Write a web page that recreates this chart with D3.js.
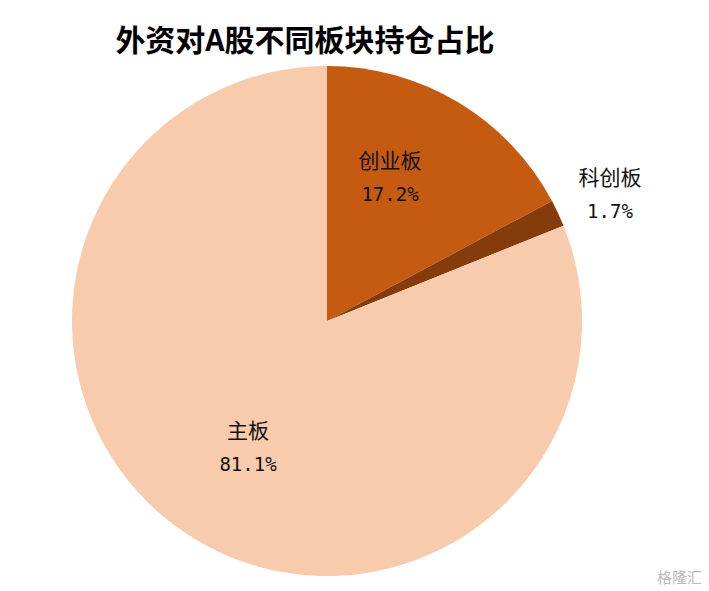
<!DOCTYPE html>
<html><head><meta charset="utf-8">
<script src="https://cdn.jsdelivr.net/npm/d3@7"></script>
<style>body{margin:0;background:#fff}</style>
</head><body>
<script>
// data
var categories = ['创业板', '科创板', '主板'];
var shares = [17.2, 1.7, 81.1];
var colors = ['#C55A11', '#843C0C', '#F8CBAD'];
// label anchor positions (pixel offsets of text, not data)
var labelPos = [[390, 160], [610, 177], [248, 430]];

var W = 709, H = 591, cx = 327, cy = 321, r = 255;
var svg = d3.select('body').append('svg').attr('width', W).attr('height', H);

svg.append('text').attr('x', 305).attr('y', 51).attr('text-anchor', 'middle')
  .style('font-family', 'Noto Sans CJK SC').style('font-weight', 'bold')
  .style('font-size', '30px').text('外资对A股不同板块持仓占比');

var pie = d3.pie().sort(null).value(function(d) { return d; });
var arc = d3.arc().innerRadius(0).outerRadius(r);
var g = svg.append('g').attr('transform', 'translate(' + cx + ',' + cy + ')');
g.selectAll('path').data(pie(shares)).enter().append('path')
  .attr('d', arc).attr('fill', function(d, i) { return colors[i]; });

categories.forEach(function(c, i) {
  var t = svg.append('text').attr('text-anchor', 'middle')
    .style('font-family', 'Noto Sans CJK SC').style('font-size', '21px').attr('fill', '#111');
  t.append('tspan').attr('x', labelPos[i][0]).attr('y', labelPos[i][1] + 8).text(c);
  t.append('tspan').attr('x', labelPos[i][0]).attr('y', labelPos[i][1] + 41)
    .style('font-family', 'DejaVu Sans Mono').style('font-size', '19px').text(shares[i].toFixed(1) + '%');
});

svg.append('text').attr('x', 702).attr('y', 583).attr('text-anchor', 'end')
  .style('font-family', 'Noto Sans CJK SC').style('font-size', '15px')
  .attr('fill', '#bbb').text('格隆汇');
</script>
</body></html>
